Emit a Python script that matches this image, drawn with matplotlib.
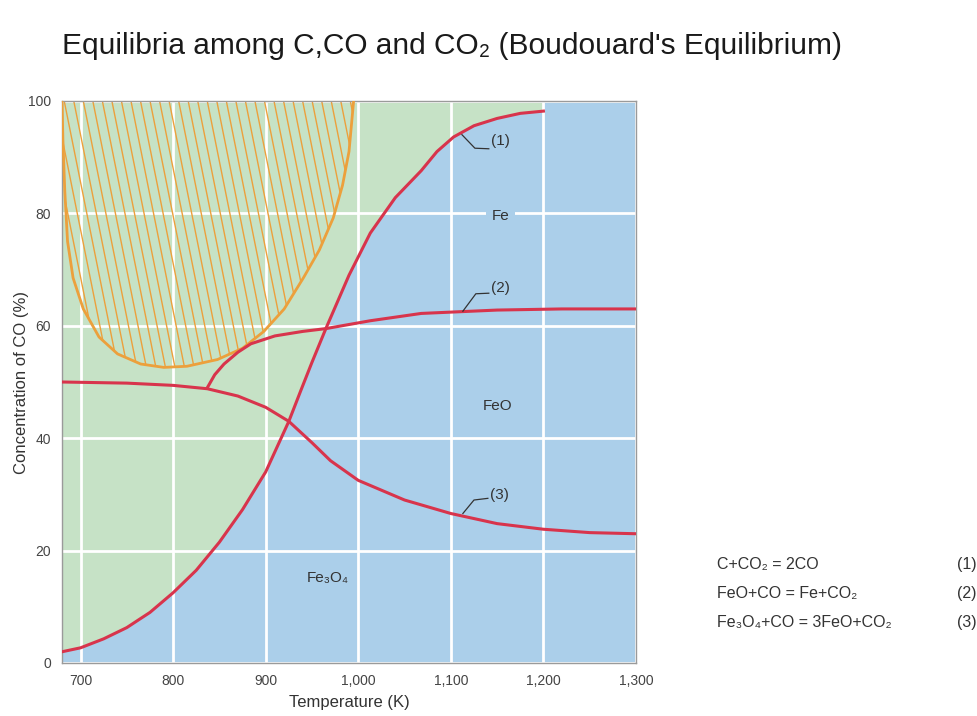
import numpy as np
import matplotlib.pyplot as plt
from matplotlib.collections import LineCollection
from matplotlib.patches import Polygon

plt.rcParams['font.family'] = ['Liberation Sans', 'DejaVu Sans']

# curve (1): C + CO2 = 2CO
t1 = [680, 700, 725, 750, 762, 775, 800, 825, 850, 875, 900, 925, 938, 950, 965,
      990, 1013, 1040, 1068, 1085, 1103, 1125, 1150, 1175, 1200]
co1 = [2.0, 2.7, 4.3, 6.3, 7.6, 9.0, 12.5, 16.5, 21.5, 27.3, 34.0, 43.0, 48.5, 53.5, 59.5,
       69.0, 76.5, 82.8, 87.6, 91.0, 93.6, 95.6, 96.9, 97.8, 98.2]

# curve (2): FeO + CO = Fe + CO2 (starts at the branch point)
t2 = [837, 845, 855, 870, 884, 910, 940, 965, 1013, 1068, 1150, 1220, 1300]
co2 = [49.0, 51.3, 53.2, 55.3, 56.8, 58.2, 59.0, 59.5, 60.9, 62.2, 62.8, 63.0, 63.0]

# curve (3): Fe3O4 + CO = 3FeO + CO2 (with the Fe3O4/Fe branch below 837 K)
t3 = [680, 750, 800, 837, 870, 900, 925, 950, 970, 1000, 1050, 1100, 1150, 1200, 1250, 1300]
co3 = [50.0, 49.8, 49.4, 48.8, 47.5, 45.5, 43.0, 39.2, 36.0, 32.5, 29.0, 26.6, 24.8, 23.8, 23.2, 23.0]

# boundary of the hatched (carbon deposition) zone
t_dep = [680, 681, 683, 686, 692, 703, 720, 740, 765, 790, 815, 848, 875, 898, 920,
         941, 958, 973, 983, 990, 995]
co_dep = [100, 93, 84, 75, 68.5, 63, 58, 55, 53.2, 52.6, 52.8, 54, 56, 59, 63,
          68.6, 73.5, 79.2, 85, 91, 100]

temp_ticks = [700, 800, 900, 1000, 1100, 1200, 1300]
temp_labels = ['700', '800', '900', '1,000', '1,100', '1,200', '1,300']
co_ticks = [0, 20, 40, 60, 80, 100]

reactions = ['C+CO\u2082 = 2CO', 'FeO+CO = Fe+CO\u2082', 'Fe\u2083O\u2084+CO = 3FeO+CO\u2082']
reaction_nums = ['(1)', '(2)', '(3)']

GREEN = '#c6e2c6'
BLUE = '#abcfea'
RED = '#d8344c'
ORANGE = '#eca03c'
TXT = '#333333'

fig = plt.figure(figsize=(9.78, 7.16), dpi=100)
ax = fig.add_axes([62 / 978, 1 - 663 / 716, (636 - 62) / 978, (663 - 101) / 716])

ax.set_facecolor(BLUE)
ax.fill_between(t1, co1, 100, color=GREEN, lw=0, zorder=1)
ax.set_xlim(680, 1300)
ax.set_ylim(0, 100)

ax.set_xticks(temp_ticks)
ax.set_xticklabels(temp_labels)
ax.set_yticks(co_ticks)
ax.tick_params(length=0, labelsize=10, labelcolor='#444444', pad=8)
ax.set_axisbelow('line')
ax.grid(True, color='white', lw=2.0)
for s in ax.spines.values():
    s.set_color('#9a9a9a')
    s.set_linewidth(1.0)

# hatched zone
dep_poly = Polygon(np.column_stack([t_dep, co_dep]), closed=True, fc='none', ec='none')
ax.add_patch(dep_poly)
segs = []
for x0 in np.arange(600, 1010, 10.3):
    segs.append([(x0, 100), (x0 + 1.22 * 50, 50)])
hatch = LineCollection(segs, colors=ORANGE, linewidths=1.0, zorder=2)
ax.add_collection(hatch)
hatch.set_clip_path(dep_poly)
ax.plot(t_dep, co_dep, color=ORANGE, lw=2.0, zorder=3, solid_capstyle='butt')

# equilibrium curves
ax.plot(t1, co1, color=RED, lw=2.2, zorder=4)
ax.plot(t2, co2, color=RED, lw=2.2, zorder=4)
ax.plot(t3, co3, color=RED, lw=2.2, zorder=4)

# curve labels with leader lines
leaders = [
    ([1112, 1126, 1141], [94.0, 91.6, 91.5], 1143, 92.8, '(1)'),
    ([1113, 1127, 1141], [62.6, 65.7, 65.8], 1143, 66.8, '(2)'),
    ([1113, 1125, 1140], [26.6, 29.0, 29.3], 1142, 29.9, '(3)'),
]
for lx, ly, tx, ty, lab in leaders:
    ax.plot(lx, ly, color='#333333', lw=0.9, zorder=5)
    ax.text(tx, ty, lab, fontsize=11, color=TXT, ha='left', va='center', zorder=5)

# phase labels
ax.text(1154, 79.6, 'Fe', fontsize=11, color=TXT, ha='center', va='center', zorder=5,
        bbox=dict(fc=BLUE, ec='none', pad=4))
ax.text(1151, 45.8, 'FeO', fontsize=11, color=TXT, ha='center', va='center', zorder=5)
ax.text(967, 15.1, 'Fe\u2083O\u2084', fontsize=11, color=TXT, ha='center', va='center', zorder=5)

# titles
fig.text(62 / 978, 1 - 46 / 716,
         "Equilibria among C,CO and CO\u2082 (Boudouard's Equilibrium)",
         fontsize=21.5, color='#1a1a1a', ha='left', va='center')
fig.text(22 / 978, 1 - 382 / 716, 'Concentration of CO (%)', rotation=90,
         fontsize=12, color=TXT, ha='center', va='center')
fig.text(349 / 978, 1 - 703 / 716, 'Temperature (K)', fontsize=12, color=TXT,
         ha='center', va='center')

# reaction list
for i, (r, n) in enumerate(zip(reactions, reaction_nums)):
    y = 565 + 28.5 * i
    fig.text(717 / 978, 1 - y / 716, r, fontsize=11.5, color=TXT, ha='left', va='center')
    fig.text(957 / 978, 1 - y / 716, n, fontsize=11.5, color=TXT, ha='left', va='center')

fig.savefig('out.png', dpi=100, facecolor='white')
